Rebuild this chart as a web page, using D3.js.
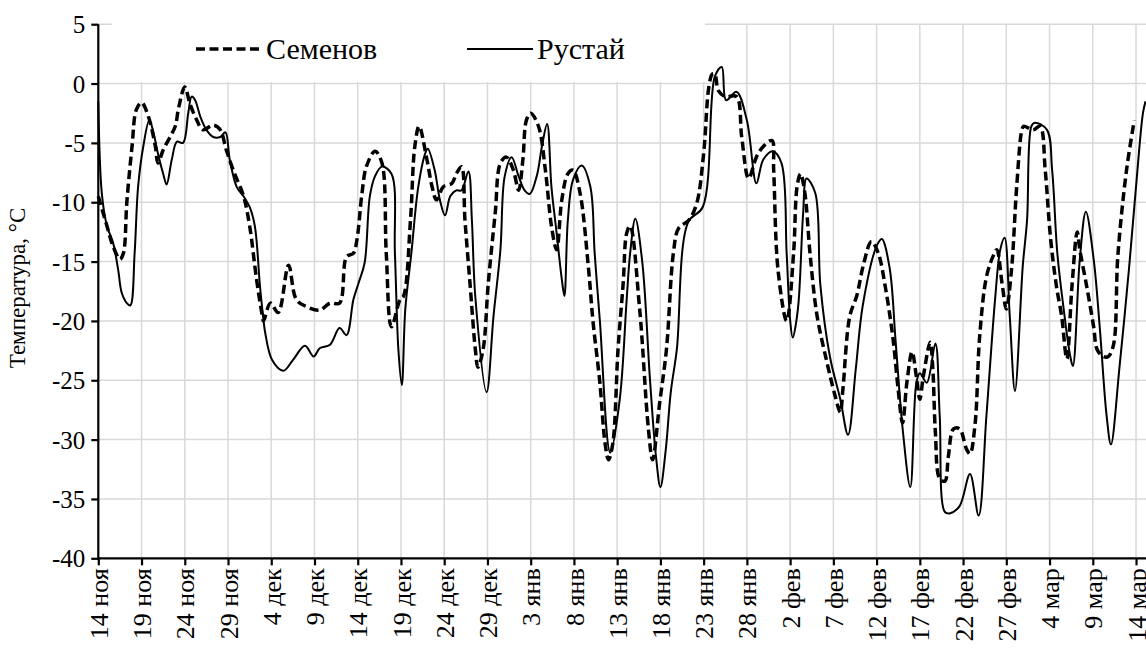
<!DOCTYPE html>
<html lang="ru">
<head>
<meta charset="utf-8">
<script src="https://cdn.jsdelivr.net/npm/d3@7/dist/d3.min.js"></script>
<style>
  html, body { margin: 0; padding: 0; background: #fff; }
  svg { display: block; font-family: "Liberation Serif", "Times New Roman", serif; }
</style>
</head>
<body>
<svg id="chart" width="1146" height="652"></svg>
<script>
// Days counted from 14 November; temperatures in °C.
const tickDays = [0, 5, 10, 15, 20, 25, 30, 35, 40, 45, 50, 55, 60, 65, 70, 75, 80, 85, 90, 95, 100, 105, 110, 115, 120];
const tickLabels = ["14 ноя", "19 ноя", "24 ноя", "29 ноя", "4 дек", "9 дек", "14 дек", "19 дек", "24 дек", "29 дек",
  "3 янв", "8 янв", "13 янв", "18 янв", "23 янв", "28 янв", "2 фев", "7 фев", "12 фев", "17 фев",
  "22 фев", "27 фев", "4 мар", "9 мар", "14 мар"];
const yTicks = [-40, -35, -30, -25, -20, -15, -10, -5, 0, 5];

// Семенов
const semenovDay = [0, 1.0, 1.7, 2.5, 2.9, 3.3, 3.9, 4.4, 5.0, 5.8, 6.6, 6.9, 7.5, 8.3, 8.9, 9.3, 10.0, 10.6, 11.4, 12.1,
  13.3, 14.1, 14.8, 15.6, 16.8, 17.5, 18.3, 18.9, 19.1, 19.9, 20.8, 22.0, 22.9, 24.1, 25.6, 26.8, 27.9, 28.7, 29.5, 29.9,
  30.5, 31.0, 32.0, 32.8, 33.3, 33.9, 34.9, 35.3, 36.1, 36.6, 37.1, 38.0, 38.6, 39.1, 39.9, 40.9, 41.4, 42.0, 42.4, 43.0,
  43.6, 43.9, 44.5, 45.1, 45.9, 46.5, 47.2, 48.0, 48.6, 49.1, 49.5, 50.0, 50.9, 51.7, 52.4, 53.0, 53.6, 54.3, 54.9, 55.7,
  56.7, 57.2, 58.0, 58.6, 59.0, 59.5, 60.1, 60.7, 61.1, 61.5, 62.6, 63.6, 64.1, 64.9, 65.7, 66.5, 67.1, 68.3, 69.2, 70.0,
  70.6, 71.0, 71.3, 71.7, 72.5, 73.8, 74.4, 75.2, 76.1, 76.9, 77.9, 78.1, 78.6, 79.6, 80.4, 80.8, 81.2, 81.7, 82.3, 83.1,
  84.2, 85.2, 85.8, 86.1, 86.9, 87.7, 88.5, 89.4, 90.2, 91.0, 91.9, 92.5, 93.0, 93.5, 94.1, 94.6, 95.0, 95.4, 96.2, 96.5,
  96.8, 97.3, 97.9, 98.3, 98.9, 99.6, 100.4, 100.8, 101.4, 101.9, 102.7, 103.5, 103.9, 104.5, 105.0, 105.6, 106.2, 106.8, 107.0, 108.1,
  108.9, 109.5, 110.1, 110.8, 111.4, 112.0, 112.6, 113.2, 113.5, 114.3, 115.1, 115.5, 116.2, 116.8, 117.4, 117.9, 118.9, 119.8];
const semenovTemp = [-9.5, -12, -13.7, -14.8, -14.3, -10, -5.3, -2.2, -1.6, -2.8, -5.3, -6.7, -5.6, -4.5, -3.6, -2, -0.3, -1.7, -3.1, -3.9,
  -3.5, -3.9, -5.6, -7.3, -9.5, -12, -16.5, -19.3, -20, -18.5, -19.3, -15.3, -18.2, -18.8, -19.1, -18.5, -18.5, -14.6, -14.3, -13.2,
  -9.2, -7.0, -5.7, -6.7, -14.3, -20.5, -18.2, -17.9, -11.5, -5.3, -3.6, -6.4, -8.7, -9.8, -8.7, -8.4, -7.6, -7.0, -11.5, -17,
  -22.4, -23.9, -22.4, -16.8, -10.9, -6.7, -6.2, -7.3, -9.0, -6.4, -3.1, -2.5, -3.6, -7.3, -12, -14, -9.8, -7.6, -7.3, -9.2,
  -15.7, -20, -25.2, -30.3, -31.7, -30.3, -22.4, -16.8, -12.6, -12, -19, -29, -31.7, -27, -22.4, -14.3, -12.2, -11.5, -10.1, -5.9,
  -0.3, 0.8, 0.8, -0.6, -1.1, -1.1, -4.5, -8.0, -6.2, -5.3, -4.8, -7.3, -15.7, -20, -14.3, -8.7, -7.6, -9.2, -14.3, -19.5,
  -23.3, -26.3, -27.7, -25.8, -19.6, -17.9, -15.2, -13.3, -14.3, -17.1, -21.5, -25.8, -28.6, -25.2, -22.6, -24.7, -26.6, -24.7, -21.8, -24,
  -29.4, -33.3, -33.5, -31.4, -29.1, -29.1, -30.8, -31.2, -28.6, -21.5, -16.3, -14.5, -14, -16.8, -19, -15.7, -8.7, -3.9, -3.6, -3.9,
  -3.6, -7.3, -12.9, -17.1, -19.6, -23.2, -17, -12.5, -14, -17.1, -20.5, -22.4, -23, -23, -22, -14.5, -7.3, -3.1];

// Рустай
const rustaiDay = [0, 0.4, 1.0, 1.7, 2.3, 2.7, 3.3, 3.7, 4.2, 4.6, 5.2, 5.9, 6.4, 6.9, 7.5, 7.9, 8.5, 9.1, 9.8, 10.4,
  10.8, 11.2, 11.8, 12.5, 13.3, 14.1, 14.7, 15.2, 16.0, 16.8, 17.5, 18.1, 18.7, 19.1, 19.3, 20.1, 21.4, 22.5, 23.9, 24.9,
  25.6, 26.8, 27.9, 28.7, 29.5, 30.1, 30.8, 31.4, 32.0, 32.8, 33.9, 34.3, 34.7, 35.1, 35.5, 36.2, 37.0, 37.8, 38.1, 38.9,
  39.5, 40.1, 40.7, 41.4, 42.0, 42.8, 43.2, 43.6, 44.9, 45.7, 46.5, 47.0, 47.8, 48.6, 49.3, 49.9, 50.7, 51.3, 51.9, 52.4,
  53.0, 53.6, 53.9, 54.3, 54.9, 55.9, 56.9, 57.4, 58.0, 59.2, 60.3, 61.1, 61.5, 62.1, 62.9, 63.8, 64.5, 65.0, 65.6, 66.2,
  66.9, 68.2, 69.9, 71.3, 72.1, 72.6, 73.8, 75.0, 76.1, 76.9, 78.0, 79.0, 79.6, 80.0, 80.3, 80.9, 81.5, 81.9, 82.9, 83.5,
  84.6, 85.8, 86.7, 87.6, 88.4, 90.0, 90.6, 91.5, 92.2, 93.0, 93.9, 94.6, 95.0, 95.8, 96.8, 97.3, 97.9, 98.5, 99.6, 100.8,
  101.8, 102.7, 103.7, 104.3, 104.8, 105.4, 106.0, 106.9, 107.4, 107.9, 108.3, 109.7, 110.3, 110.9, 111.6, 112.4, 112.7, 113.5, 114.2, 115.1,
  115.8, 116.6, 117.1, 118.1, 119.2, 120.0, 120.8, 121.1];
const rustaiTemp = [-1.5, -9.2, -12, -13.4, -15.7, -17.6, -18.5, -18.7, -14.3, -8.7, -5.3, -3.1, -4.2, -5.9, -7.6, -8.5, -6.4, -4.9, -5.0, -2.5,
  -1.1, -1.4, -2.8, -3.9, -4.5, -4.5, -4.1, -6.4, -8.7, -9.5, -10.4, -12, -17.1, -19.9, -21, -23.3, -24.2, -23.3, -22.1, -23,
  -22.3, -22, -20.6, -21.2, -18.2, -16.8, -15.1, -9.5, -7.8, -7.0, -7.6, -14.3, -22.4, -25.4, -19, -14.3, -8.7, -5.9, -5.5, -7.3,
  -9.8, -11.1, -9.5, -9.0, -9.0, -7.4, -11.5, -18, -26, -19.6, -14, -7.8, -6.2, -7.8, -9, -9.3, -7.8, -5.3, -3.4, -8.7,
  -12.6, -16.5, -17.9, -11.5, -8.1, -6.9, -8.7, -14.3, -20, -31.1, -26.6, -18.2, -14.3, -11.4, -15, -25, -31.5, -34, -31, -26,
  -22.4, -11.7, -10.4, 0.6, 1.4, -1.4, -0.7, -3.1, -8.4, -6.4, -5.7, -6.7, -14.3, -19.9, -21.4, -19, -11, -8.0, -9.2, -17,
  -23, -26.6, -29.6, -24, -18.7, -13.7, -13.1, -15.5, -21.7, -29, -34, -25.2, -24.4, -25.2, -21.9, -28, -36.1, -36.2, -35.6, -32.9,
  -36.4, -28, -18.2, -14, -13, -19.6, -25.9, -15.4, -11.5, -3.6, -3.3, -3.9, -7.3, -14.3, -18.8, -23, -23.8, -14.8, -10.8, -14.8,
  -20.5, -28, -30.4, -23.8, -15.5, -8.7, -2.5, -1.5];

const serif = "'Liberation Serif', 'Times New Roman', serif";
const svg = d3.select("#chart");
const plotLeft = 98.3, plotRight = 1146.4, plotTop = 24.2, plotBottom = 558.3;

const x = d3.scaleLinear().domain([0, 121.2]).range([plotLeft, plotRight]);
const y = d3.scaleLinear().domain([-40, 5]).range([plotBottom, plotTop]);

// grid
const grid = svg.append("g").attr("stroke", "#d9d9d9").attr("stroke-width", 1.5);
grid.selectAll("line.h").data(yTicks.filter(v => v > -40)).join("line")
  .attr("class", "h")
  .attr("x1", plotLeft).attr("x2", plotRight).attr("y1", d => y(d)).attr("y2", d => y(d));
grid.selectAll("line.v").data(tickDays.filter(d => d > 0)).join("line")
  .attr("class", "v")
  .attr("x1", d => x(d)).attr("x2", d => x(d)).attr("y1", plotTop).attr("y2", plotBottom);

// series
const seriesPath = (days, temps) => d3.line()
  .x((d, i) => x(days[i]))
  .y(d => y(d))
  .curve(d3.curveCatmullRom.alpha(0.5))(temps);

svg.append("path").attr("d", seriesPath(rustaiDay, rustaiTemp))
  .attr("fill", "none").attr("stroke", "#000").attr("stroke-width", 2);
svg.append("path").attr("d", seriesPath(semenovDay, semenovTemp))
  .attr("fill", "none").attr("stroke", "#000").attr("stroke-width", 3.5)
  .attr("stroke-dasharray", "9,4.5");

// axes
const yAxis = svg.append("g").attr("transform", `translate(${plotLeft},0)`)
  .call(d3.axisLeft(y).tickValues(yTicks).tickSize(7).tickPadding(6).tickFormat(d => d));
const xAxis = svg.append("g").attr("transform", `translate(0,${plotBottom})`)
  .call(d3.axisBottom(x).tickValues(tickDays).tickSize(7).tickFormat((d, i) => tickLabels[i]));

[yAxis, xAxis].forEach(g => {
  g.attr("font-family", null);
  g.select(".domain").attr("stroke", "#000").attr("stroke-width", 2.2);
  g.selectAll(".tick line").attr("stroke", "#000").attr("stroke-width", 2.2);
  g.selectAll("text").attr("fill", "#000").style("font-family", serif);
});
yAxis.select(".domain").attr("d", `M0,${plotBottom}V${plotTop}`);
xAxis.select(".domain").attr("d", `M${plotLeft},0H${plotRight}`);
yAxis.selectAll("text").style("font-size", "25px").attr("dy", "0.34em");
xAxis.selectAll("text")
  .style("font-size", "26px")
  .attr("text-anchor", "end")
  .attr("transform", "rotate(-90)")
  .attr("x", -10).attr("y", 0).attr("dy", "0.35em");

// y title
svg.append("text")
  .attr("transform", `translate(25,288) rotate(-90)`)
  .attr("text-anchor", "middle")
  .style("font-family", serif)
  .style("font-size", "23px")
  .text("Температура, °C");

// legend
const legend = svg.append("g").style("font-family", serif).style("font-size", "30px");
legend.append("rect").attr("x", 112).attr("y", 12).attr("width", 593).attr("height", 70).attr("fill", "#fff");
legend.append("line").attr("x1", 196).attr("x2", 262).attr("y1", 49).attr("y2", 49)
  .attr("stroke", "#000").attr("stroke-width", 3.5).attr("stroke-dasharray", "9,4.5");
legend.append("text").attr("x", 266).attr("y", 59).text("Семенов");
legend.append("line").attr("x1", 467).attr("x2", 533).attr("y1", 49).attr("y2", 49)
  .attr("stroke", "#000").attr("stroke-width", 2);
legend.append("text").attr("x", 537).attr("y", 59).text("Рустай");
</script>
</body>
</html>
